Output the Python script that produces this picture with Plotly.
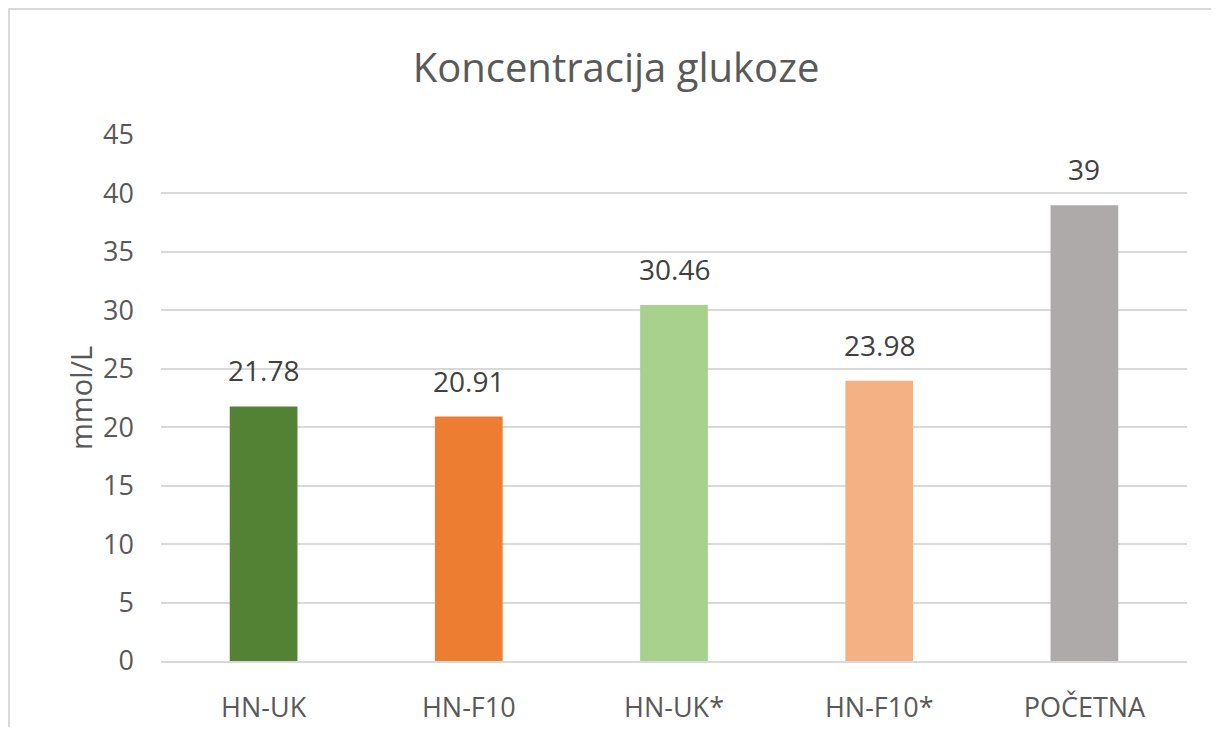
import plotly.graph_objects as go

categories = ["HN-UK", "HN-F10", "HN-UK*", "HN-F10*", "POČETNA"]
values = [21.78, 20.91, 30.46, 23.98, 39]
labels = ["21.78", "20.91", "30.46", "23.98", "39"]
colors = ["#548235", "#ED7D31", "#A9D18E", "#F4B183", "#AEAAAA"]
y_ticks = [0, 5, 10, 15, 20, 25, 30, 35, 40, 45]

FONT = "Open Sans"
OFF = 8  # page body margin
W, H = 1219 - 2 * OFF, 735 - 2 * OFF
L, T = 161 - OFF, 135 - OFF
R = W - (1187 - OFF)
B = H - (661 - OFF)
pw, ph = W - L - R, H - T - B

fig = go.Figure()
fig.add_trace(go.Bar(
    x=categories, y=values, marker=dict(color=colors, line=dict(width=0)),
    width=0.33, hoverinfo="x+y",
))

for c, v, t in zip(categories, values, labels):
    fig.add_annotation(x=c, y=v, text=t, showarrow=False, yanchor="bottom",
                       yshift=15, font=dict(family=FONT, size=28, color="#404040"))

# axis title
fig.add_annotation(xref="paper", yref="paper", x=(80 - 161) / pw, y=0.5,
                   text="mmol/L", textangle=-90, showarrow=False,
                   xanchor="center", yanchor="middle",
                   font=dict(family=FONT, size=29, color="#595959"))

# chart border (only left and top edges are visible in the reference)
x_left = (0.5 - L) / pw
y_top = (ph + T - 0.5) / ph
fig.add_shape(type="line", xref="paper", yref="paper",
              x0=x_left, x1=(W - L) / pw, y0=y_top, y1=y_top,
              line=dict(color="#D9D9D9", width=3), layer="below")
fig.add_shape(type="line", xref="paper", yref="paper",
              x0=x_left, x1=x_left, y0=-B / ph, y1=y_top,
              line=dict(color="#D9D9D9", width=3), layer="below")

fig.update_layout(
    width=W, height=H,
    margin=dict(l=L, r=R, t=T, b=B, pad=0, autoexpand=False),
    paper_bgcolor="white", plot_bgcolor="white",
    showlegend=False,
    title=dict(text="Koncentracija glukoze", xref="container", yref="container",
               x=(616 - OFF) / W, y=1 - (68 - OFF) / H, xanchor="center", yanchor="middle",
               font=dict(family=FONT, size=40, color="#595959")),
    xaxis=dict(showgrid=False, showline=True, linecolor="#D9D9D9", linewidth=2,
               ticks="", ticklabelstandoff=22, automargin=False,
               tickfont=dict(family=FONT, size=27, color="#595959")),
    yaxis=dict(range=[0, 45], tickvals=y_ticks, showgrid=True,
               gridcolor="#D9D9D9", gridwidth=2, zeroline=False,
               showline=False, ticks="", ticklabelstandoff=26, automargin=False,
               tickfont=dict(family=FONT, size=27, color="#595959")),
)

fig.write_html("out.html")
